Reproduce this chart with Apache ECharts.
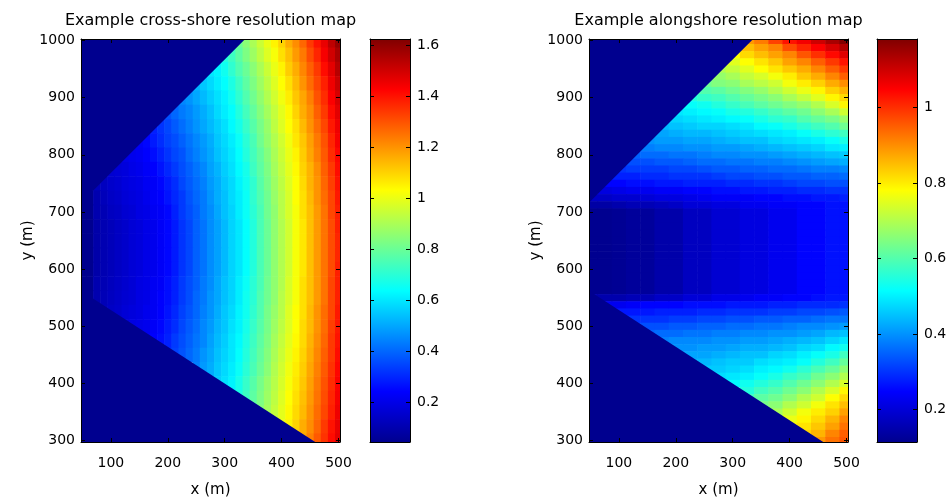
<!DOCTYPE html>
<html>
<head>
<meta charset="utf-8">
<script src="https://cdn.jsdelivr.net/npm/echarts@6/dist/echarts.min.js"></script>
<style>
  html, body { margin: 0; padding: 0; background: #fff; }
  #chart { width: 950px; height: 499px; }
</style>
</head>
<body>
<div id="chart"></div>
<script>
// Resolution estimates (metres). null = outside the camera's field of view.
const _ = null;

// Cross-shore map: rows at 25 m (y), columns at 12.5 m (x).
const crossX = [50, 62.5, 75, 87.5, 100, 112.5, 125, 137.5, 150, 162.5, 175, 187.5, 200, 212.5, 225, 237.5, 250, 262.5, 275, 287.5, 300, 312.5, 325, 337.5, 350, 362.5, 375, 387.5, 400, 412.5, 425, 437.5, 450, 462.5, 475, 487.5, 500];
const crossY = [1000, 975, 950, 925, 900, 875, 850, 825, 800, 775, 750, 725, 700, 675, 650, 625, 600, 575, 550, 525, 500, 475, 450, 425, 400, 375, 350, 325, 300];
const crossCell = [12.5, 25];

const crossShore = [
  [_,_,_,_,_,_,_,_,_,_,_,_,_,_,_,_,_,_,_,_,_,_,.80,.85,.90,.95,1.00,1.05,1.10,1.16,1.21,1.27,1.34,1.40,1.46,1.53,1.59],
  [_,_,_,_,_,_,_,_,_,_,_,_,_,_,_,_,_,_,_,_,.69,.73,.78,.83,.88,.93,.98,1.02,1.08,1.13,1.19,1.24,1.31,1.37,1.44,1.50,1.56],
  [_,_,_,_,_,_,_,_,_,_,_,_,_,_,_,_,_,_,.60,.62,.66,.71,.76,.80,.85,.90,.95,1.00,1.05,1.11,1.16,1.22,1.28,1.34,1.41,1.47,1.54],
  [_,_,_,_,_,_,_,_,_,_,_,_,_,_,_,_,.52,.55,.58,.61,.64,.68,.73,.78,.83,.88,.93,.98,1.03,1.08,1.14,1.20,1.26,1.32,1.38,1.45,1.51],
  [_,_,_,_,_,_,_,_,_,_,_,_,_,_,.45,.47,.50,.53,.56,.59,.62,.66,.71,.76,.81,.86,.91,.96,1.01,1.06,1.12,1.17,1.23,1.30,1.36,1.43,1.49],
  [_,_,_,_,_,_,_,_,_,_,_,_,.37,.40,.43,.45,.48,.51,.54,.58,.61,.64,.69,.74,.79,.84,.89,.94,.99,1.04,1.10,1.16,1.21,1.28,1.34,1.41,1.47],
  [_,_,_,_,_,_,_,_,_,_,.29,.32,.35,.38,.41,.44,.47,.50,.53,.56,.59,.63,.67,.72,.77,.82,.87,.93,.98,1.03,1.08,1.14,1.20,1.26,1.32,1.39,1.45],
  [_,_,_,_,_,_,_,_,.23,.25,.28,.31,.34,.36,.39,.42,.45,.48,.51,.55,.58,.61,.65,.70,.75,.81,.86,.91,.96,1.01,1.07,1.12,1.18,1.24,1.30,1.37,1.44],
  [_,_,_,_,_,_,.20,.21,.22,.24,.26,.29,.32,.35,.37,.41,.44,.47,.50,.54,.57,.60,.64,.69,.74,.79,.84,.90,.95,1.00,1.05,1.11,1.17,1.23,1.29,1.36,1.42],
  [_,_,_,_,.16,.17,.18,.20,.21,.23,.24,.27,.30,.33,.36,.39,.42,.45,.49,.52,.56,.59,.63,.67,.73,.78,.83,.89,.94,.99,1.04,1.10,1.15,1.21,1.28,1.34,1.41],
  [_,_,.12,.13,.15,.16,.18,.19,.20,.22,.23,.25,.28,.31,.35,.38,.41,.44,.48,.51,.55,.58,.62,.66,.71,.77,.82,.88,.93,.98,1.03,1.09,1.15,1.20,1.27,1.33,1.40],
  [.044,.044,.10,.12,.14,.15,.17,.18,.19,.21,.23,.24,.27,.30,.33,.37,.40,.43,.47,.51,.54,.58,.61,.65,.71,.76,.81,.87,.92,.97,1.03,1.08,1.14,1.20,1.26,1.32,1.39],
  [.044,.044,.10,.11,.13,.14,.16,.17,.19,.20,.22,.23,.25,.29,.33,.36,.39,.43,.46,.50,.54,.57,.61,.65,.70,.75,.81,.86,.92,.97,1.02,1.08,1.13,1.19,1.25,1.32,1.38],
  [.044,.044,.09,.105,.12,.135,.15,.17,.18,.20,.21,.23,.25,.28,.32,.35,.39,.42,.46,.49,.53,.57,.60,.64,.69,.75,.80,.86,.91,.96,1.02,1.07,1.13,1.19,1.25,1.31,1.38],
  [.044,.044,.09,.105,.12,.135,.15,.17,.18,.20,.21,.23,.25,.28,.32,.35,.39,.42,.46,.49,.53,.57,.60,.64,.69,.75,.80,.86,.91,.96,1.02,1.07,1.13,1.19,1.25,1.31,1.37],
  [.044,.044,.09,.105,.12,.135,.15,.17,.18,.20,.21,.23,.25,.28,.32,.35,.39,.42,.46,.49,.53,.57,.60,.64,.69,.75,.80,.86,.91,.96,1.02,1.07,1.13,1.19,1.25,1.31,1.37],
  [.044,.044,.09,.105,.12,.135,.15,.17,.18,.20,.21,.23,.25,.28,.32,.35,.39,.42,.46,.49,.53,.57,.60,.64,.69,.75,.80,.86,.91,.96,1.02,1.07,1.13,1.19,1.25,1.31,1.38],
  [.044,.044,.10,.11,.125,.14,.155,.17,.19,.20,.22,.23,.26,.29,.33,.36,.39,.43,.46,.50,.54,.57,.61,.65,.70,.75,.81,.86,.91,.97,1.02,1.08,1.13,1.19,1.25,1.32,1.38],
  [.044,.044,.10,.115,.13,.145,.16,.17,.19,.20,.22,.24,.26,.29,.33,.36,.40,.43,.47,.50,.54,.57,.61,.66,.70,.76,.81,.86,.92,.97,1.02,1.08,1.13,1.19,1.25,1.32,1.38],
  [_,_,_,.12,.14,.15,.17,.18,.19,.21,.22,.24,.27,.30,.34,.37,.40,.44,.47,.51,.55,.58,.62,.66,.71,.76,.82,.87,.92,.98,1.03,1.08,1.14,1.20,1.26,1.32,1.39],
  [_,_,_,_,_,_,.17,.19,.20,.21,.23,.25,.28,.31,.35,.38,.41,.45,.48,.52,.55,.59,.62,.67,.72,.77,.82,.88,.93,.98,1.03,1.09,1.14,1.20,1.26,1.33,1.39],
  [_,_,_,_,_,_,_,_,_,.22,.24,.26,.29,.33,.36,.39,.42,.45,.49,.53,.56,.60,.63,.68,.73,.78,.83,.89,.94,.99,1.04,1.09,1.15,1.21,1.27,1.34,1.40],
  [_,_,_,_,_,_,_,_,_,_,_,_,.31,.34,.37,.40,.43,.47,.50,.54,.57,.60,.64,.69,.74,.79,.84,.90,.95,1.00,1.05,1.10,1.16,1.22,1.28,1.34,1.41],
  [_,_,_,_,_,_,_,_,_,_,_,_,_,_,_,_,.44,.48,.51,.55,.58,.61,.65,.70,.75,.80,.85,.91,.96,1.01,1.06,1.11,1.17,1.23,1.29,1.35,1.42],
  [_,_,_,_,_,_,_,_,_,_,_,_,_,_,_,_,_,_,_,.56,.59,.62,.67,.72,.77,.82,.87,.92,.97,1.02,1.07,1.12,1.18,1.24,1.30,1.36,1.43],
  [_,_,_,_,_,_,_,_,_,_,_,_,_,_,_,_,_,_,_,_,_,_,.68,.73,.78,.83,.88,.93,.98,1.03,1.08,1.13,1.19,1.25,1.31,1.37,1.44],
  [_,_,_,_,_,_,_,_,_,_,_,_,_,_,_,_,_,_,_,_,_,_,_,_,_,.84,.89,.94,.99,1.04,1.09,1.14,1.20,1.26,1.32,1.38,1.45],
  [_,_,_,_,_,_,_,_,_,_,_,_,_,_,_,_,_,_,_,_,_,_,_,_,_,_,_,_,1.00,1.05,1.10,1.16,1.21,1.27,1.34,1.40,1.46],
  [_,_,_,_,_,_,_,_,_,_,_,_,_,_,_,_,_,_,_,_,_,_,_,_,_,_,_,_,_,_,_,1.17,1.23,1.29,1.35,1.41,1.47]
];

// Alongshore map: columns at 25 m (x), each listing values from y = 1000 down to y = 300 at 12.5 m.
const alongX = [50, 75, 100, 125, 150, 175, 200, 225, 250, 275, 300, 325, 350, 375, 400, 425, 450, 475, 500];
const alongY = [1000, 987.5, 975, 962.5, 950, 937.5, 925, 912.5, 900, 887.5, 875, 862.5, 850, 837.5, 825, 812.5, 800, 787.5, 775, 762.5, 750, 737.5, 725, 712.5, 700, 687.5, 675, 662.5, 650, 637.5, 625, 612.5, 600, 587.5, 575, 562.5, 550, 537.5, 525, 512.5, 500, 487.5, 475, 462.5, 450, 437.5, 425, 412.5, 400, 387.5, 375, 362.5, 350, 337.5, 325, 312.5, 300];
const alongCell = [25, 12.5];

const alongshoreByColumn = [
  [_,_,_,_,_,_,_,_,_,_,_,_,_,_,_,_,_,_,_,_,_,_,.18,.14,.115,.115,.115,.115,.115,.115,.115,.115,.115,.115,.115,.115,.15,_,_,_,_,_,_,_,_,_,_,_,_,_,_,_,_,_,_,_,_],
  [_,_,_,_,_,_,_,_,_,_,_,_,_,_,_,_,_,_,_,_,.25,.21,.18,.14,.115,.115,.115,.115,.115,.115,.115,.115,.115,.115,.115,.115,.15,.23,_,_,_,_,_,_,_,_,_,_,_,_,_,_,_,_,_,_,_],
  [_,_,_,_,_,_,_,_,_,_,_,_,_,_,_,_,_,_,.30,.28,.25,.22,.19,.15,.12,.12,.12,.12,.12,.12,.12,.12,.12,.12,.12,.12,.15,.23,.27,_,_,_,_,_,_,_,_,_,_,_,_,_,_,_,_,_,_],
  [_,_,_,_,_,_,_,_,_,_,_,_,_,_,_,_,.35,.33,.31,.28,.26,.23,.19,.16,.128,.128,.128,.128,.128,.128,.128,.128,.128,.128,.128,.128,.16,.24,.27,.30,.32,_,_,_,_,_,_,_,_,_,_,_,_,_,_,_,_],
  [_,_,_,_,_,_,_,_,_,_,_,_,_,_,.40,.38,.36,.33,.31,.29,.26,.23,.20,.16,.128,.128,.128,.128,.128,.128,.128,.128,.128,.128,.128,.128,.16,.25,.27,.30,.33,.35,_,_,_,_,_,_,_,_,_,_,_,_,_,_,_],
  [_,_,_,_,_,_,_,_,_,_,_,_,.44,.42,.41,.39,.36,.34,.31,.29,.27,.24,.21,.17,.146,.146,.146,.146,.146,.146,.146,.146,.146,.146,.146,.146,.18,.25,.28,.30,.33,.36,.38,_,_,_,_,_,_,_,_,_,_,_,_,_,_],
  [_,_,_,_,_,_,_,_,_,_,.49,.47,.45,.43,.41,.39,.37,.34,.32,.30,.27,.24,.21,.18,.146,.146,.146,.146,.146,.146,.146,.146,.146,.146,.146,.146,.18,.25,.28,.31,.34,.36,.39,.40,_,_,_,_,_,_,_,_,_,_,_,_,_],
  [_,_,_,_,_,_,_,_,.55,.52,.50,.48,.46,.44,.42,.40,.37,.35,.32,.30,.28,.25,.22,.20,.173,.173,.173,.173,.173,.173,.173,.173,.173,.173,.173,.173,.20,.26,.28,.31,.34,.37,.39,.40,.42,.43,_,_,_,_,_,_,_,_,_,_,_],
  [_,_,_,_,_,_,.63,.60,.57,.53,.51,.49,.47,.44,.42,.40,.38,.36,.33,.30,.28,.25,.23,.20,.173,.173,.173,.173,.173,.173,.173,.173,.173,.173,.173,.173,.20,.26,.29,.32,.35,.37,.39,.41,.42,.44,.46,_,_,_,_,_,_,_,_,_,_],
  [_,_,_,_,.70,.67,.65,.61,.58,.55,.52,.50,.47,.45,.43,.41,.39,.36,.34,.31,.28,.26,.24,.21,.194,.194,.194,.194,.194,.194,.194,.194,.194,.194,.194,.194,.22,.26,.29,.32,.35,.38,.40,.41,.43,.45,.46,.48,_,_,_,_,_,_,_,_,_],
  [_,_,.78,.75,.72,.69,.66,.63,.60,.57,.54,.51,.48,.46,.44,.41,.39,.37,.34,.32,.29,.26,.24,.21,.194,.194,.194,.194,.194,.194,.194,.194,.194,.194,.194,.194,.22,.27,.30,.33,.36,.38,.40,.42,.44,.46,.47,.49,.51,_,_,_,_,_,_,_,_],
  [.89,.85,.82,.78,.75,.72,.69,.65,.62,.59,.55,.52,.49,.47,.45,.42,.40,.37,.35,.32,.29,.27,.24,.23,.21,.21,.21,.21,.21,.21,.21,.21,.21,.21,.21,.21,.23,.27,.30,.33,.36,.39,.41,.43,.45,.46,.48,.50,.53,.55,.58,_,_,_,_,_,_],
  [.92,.88,.85,.81,.78,.74,.71,.67,.64,.61,.57,.54,.51,.48,.45,.43,.40,.38,.35,.33,.30,.27,.25,.23,.21,.21,.21,.21,.21,.21,.21,.21,.21,.21,.21,.21,.24,.27,.30,.34,.37,.39,.41,.43,.45,.48,.50,.52,.55,.58,.61,.64,_,_,_,_,_],
  [.98,.91,.88,.84,.81,.77,.73,.70,.66,.63,.59,.56,.52,.49,.47,.44,.41,.38,.36,.33,.30,.28,.25,.24,.229,.229,.229,.229,.229,.229,.229,.229,.229,.229,.229,.229,.24,.28,.31,.34,.37,.40,.42,.44,.47,.49,.51,.54,.57,.60,.63,.66,.69,_,_,_,_],
  [1.03,.97,.91,.88,.84,.80,.77,.73,.69,.65,.61,.57,.54,.50,.48,.45,.42,.39,.36,.34,.31,.28,.26,.24,.229,.229,.229,.229,.229,.229,.229,.229,.229,.229,.229,.229,.25,.28,.31,.35,.38,.40,.43,.45,.48,.50,.53,.57,.60,.63,.66,.70,.73,.76,.79,_,_],
  [1.06,1.01,.96,.91,.87,.84,.80,.76,.72,.67,.63,.60,.56,.52,.49,.46,.43,.40,.37,.34,.32,.29,.26,.25,.25,.25,.25,.25,.25,.25,.25,.25,.25,.25,.25,.25,.25,.29,.32,.35,.39,.41,.44,.47,.50,.52,.56,.59,.63,.66,.70,.73,.77,.79,.81,.83,_],
  [1.10,1.05,1.00,.95,.91,.87,.83,.79,.75,.70,.66,.62,.58,.54,.50,.47,.44,.41,.38,.35,.32,.29,.27,.25,.25,.25,.25,.25,.25,.25,.25,.25,.25,.25,.25,.25,.26,.29,.32,.36,.39,.42,.45,.48,.52,.55,.59,.63,.66,.70,.73,.77,.80,.82,.84,.86,.89],
  [1.14,1.09,1.04,.99,.95,.91,.87,.83,.79,.74,.69,.64,.60,.56,.52,.49,.45,.42,.38,.35,.33,.30,.27,.264,.264,.264,.264,.264,.264,.264,.264,.264,.264,.264,.264,.264,.27,.29,.33,.37,.40,.44,.47,.51,.54,.58,.62,.66,.70,.74,.78,.81,.83,.86,.88,.91,.93],
  [1.18,1.13,1.08,1.03,.99,.95,.90,.86,.82,.79,.73,.67,.63,.58,.54,.50,.46,.43,.39,.36,.33,.30,.28,.264,.264,.264,.264,.264,.264,.264,.264,.264,.264,.264,.264,.264,.27,.30,.34,.37,.41,.45,.49,.53,.58,.62,.66,.70,.74,.79,.82,.85,.88,.91,.93,.95,.96]
];

// Edges of the camera's field of view (x, y in metres)
const viewEdgeUpper = [[47.5, 716], [336, 1002.5]];
const viewEdgeLower = [[47.5, 562], [459, 297.5]];

// Axis extents and ticks
const xExtent = [47.5, 502.5];
const yExtent = [297.5, 1002.5];
const xTicks = [100, 200, 300, 400, 500];
const yTicks = [300, 400, 500, 600, 700, 800, 900, 1000];

// Colour scale limits and colourbar ticks
const crossRange = [0.044, 1.625];
const alongRange = [0.114, 1.182];
const crossBarTicks = [0.2, 0.4, 0.6, 0.8, 1, 1.2, 1.4, 1.6];
const alongBarTicks = [0.2, 0.4, 0.6, 0.8, 1];

const titles = ['Example cross-shore resolution map', 'Example alongshore resolution map'];

// Jet colour map, low to high
const jet = ['#00008f', '#0000ff', '#0080ff', '#00ffff', '#80ff80', '#ffff00', '#ff8000', '#ff0000', '#800000'];

const fontFamily = 'DejaVu Sans';
const ink = '#000';
const plainNumber = v => String(v);

function rowsToCells(grid, xs, ys) {
  const out = [];
  grid.forEach((row, r) => row.forEach((v, c) => { if (v !== null) out.push([xs[c], ys[r], v]); }));
  return out;
}
function columnsToCells(grid, xs, ys) {
  const out = [];
  grid.forEach((col, c) => col.forEach((v, r) => { if (v !== null) out.push([xs[c], ys[r], v]); }));
  return out;
}

function cellRenderer(size) {
  const hw = size[0] / 2, hh = size[1] / 2;
  return function (params, api) {
    const x = api.value(0), y = api.value(1);
    const a = api.coord([x - hw, y + hh]);
    const b = api.coord([x + hw, y - hh]);
    const cs = params.coordSys;
    const shape = echarts.graphic.clipRectByRect(
      { x: a[0], y: a[1], width: b[0] - a[0] + 0.6, height: b[1] - a[1] + 0.6 },
      { x: cs.x, y: cs.y, width: cs.width, height: cs.height }
    );
    if (!shape) return;
    return { type: 'rect', shape: shape, style: { fill: api.visual('color') } };
  };
}

function renderOutsideView(params, api) {
  const color = api.visual('color');
  const upper = viewEdgeUpper.concat([[xExtent[0], yExtent[1]]]);
  const lower = viewEdgeLower.concat([[xExtent[0], yExtent[0]]]);
  return {
    type: 'group',
    children: [upper, lower].map(poly => ({
      type: 'polygon',
      shape: { points: poly.map(p => api.coord(p)) },
      style: { fill: color }
    }))
  };
}

function renderBar(params, api) {
  const p0 = api.coord([0, api.value(2)]);
  const p1 = api.coord([1, api.value(1)]);
  const stops = jet.slice().reverse().map((c, i) => ({ offset: i / (jet.length - 1), color: c }));
  return {
    type: 'rect',
    shape: { x: p0[0], y: p0[1], width: p1[0] - p0[0], height: p1[1] - p0[1] },
    style: { fill: new echarts.graphic.LinearGradient(0, 0, 0, 1, stops) }
  };
}

const frameLine = { show: true, onZero: false, lineStyle: { color: ink, width: 1 } };
const tickStyle = { color: ink, width: 1 };
const labelFont = { fontFamily, fontSize: 14, color: ink, formatter: plainNumber };

const grids = [
  { left: 81, top: 39, width: 259, height: 403, outerBoundsMode: 'none', containLabel: false },
  { left: 589, top: 39, width: 259, height: 403, outerBoundsMode: 'none', containLabel: false },
  { left: 370, top: 39, width: 40, height: 403, outerBoundsMode: 'none', containLabel: false },
  { left: 877, top: 39, width: 40, height: 403, outerBoundsMode: 'none', containLabel: false }
];

const xAxes = [], yAxes = [];
[0, 1].forEach(g => {
  xAxes.push({
    type: 'value', gridIndex: g, position: 'bottom', min: xExtent[0], max: xExtent[1], z: 10,
    name: 'x (m)', nameLocation: 'middle', nameGap: 41,
    nameTextStyle: { fontFamily, fontSize: 15, color: ink },
    axisLine: frameLine,
    axisTick: { inside: true, length: 4, customValues: xTicks, lineStyle: tickStyle },
    axisLabel: Object.assign({ customValues: xTicks, margin: 14 }, labelFont),
    splitLine: { show: false }
  });
  xAxes.push({
    type: 'value', gridIndex: g, position: 'top', min: xExtent[0], max: xExtent[1], z: 10,
    axisLine: frameLine,
    axisTick: { inside: true, length: 4, customValues: xTicks, lineStyle: tickStyle },
    axisLabel: { show: false }, splitLine: { show: false }
  });
  yAxes.push({
    type: 'value', gridIndex: g, position: 'left', min: yExtent[0], max: yExtent[1], z: 10,
    name: 'y (m)', nameLocation: 'middle', nameGap: 33,
    nameTextStyle: { fontFamily, fontSize: 15, color: ink },
    axisLine: frameLine,
    axisTick: { inside: true, length: 4, customValues: yTicks, lineStyle: tickStyle },
    axisLabel: Object.assign({ customValues: yTicks, margin: 6 }, labelFont),
    splitLine: { show: false }
  });
  yAxes.push({
    type: 'value', gridIndex: g, position: 'right', min: yExtent[0], max: yExtent[1], z: 10,
    axisLine: frameLine,
    axisTick: { inside: true, length: 4, customValues: yTicks, lineStyle: tickStyle },
    axisLabel: { show: false }, splitLine: { show: false }
  });
});
[[2, crossRange, crossBarTicks], [3, alongRange, alongBarTicks]].forEach(([g, range, ticks]) => {
  ['bottom', 'top'].forEach(pos => xAxes.push({
    type: 'value', gridIndex: g, position: pos, min: 0, max: 1, z: 10,
    axisLine: frameLine, axisTick: { show: false }, axisLabel: { show: false }, splitLine: { show: false }
  }));
  yAxes.push({
    type: 'value', gridIndex: g, position: 'right', min: range[0], max: range[1], z: 10,
    axisLine: frameLine,
    axisTick: { inside: true, length: 4, customValues: ticks, lineStyle: tickStyle },
    axisLabel: Object.assign({ customValues: ticks, margin: 7 }, labelFont),
    splitLine: { show: false }
  });
  yAxes.push({
    type: 'value', gridIndex: g, position: 'left', min: range[0], max: range[1], z: 10,
    axisLine: frameLine,
    axisTick: { inside: true, length: 4, customValues: ticks, lineStyle: tickStyle },
    axisLabel: { show: false }, splitLine: { show: false }
  });
});

const chart = echarts.init(document.getElementById('chart'), null, { renderer: 'canvas' });
chart.setOption({
  animation: false,
  backgroundColor: '#fff',
  title: titles.map((t, i) => ({
    text: t, left: i === 0 ? 210.5 : 718.5, top: 13, textAlign: 'center', padding: 0,
    textStyle: { fontFamily, fontSize: 16, fontWeight: 'normal', color: ink }
  })),
  grid: grids,
  xAxis: xAxes,
  yAxis: yAxes,
  visualMap: [
    { type: 'continuous', show: false, min: crossRange[0], max: crossRange[1], dimension: 2,
      seriesIndex: [0, 1], inRange: { color: jet } },
    { type: 'continuous', show: false, min: alongRange[0], max: alongRange[1], dimension: 2,
      seriesIndex: [2, 3], inRange: { color: jet } }
  ],
  series: [
    { type: 'custom', xAxisIndex: 0, yAxisIndex: 0, renderItem: cellRenderer(crossCell),
      data: rowsToCells(crossShore, crossX, crossY), z: 2 },
    { type: 'custom', xAxisIndex: 0, yAxisIndex: 0, renderItem: renderOutsideView,
      data: [[xExtent[0], yExtent[0], crossRange[0]]], z: 3 },
    { type: 'custom', xAxisIndex: 2, yAxisIndex: 2, renderItem: cellRenderer(alongCell),
      data: columnsToCells(alongshoreByColumn, alongX, alongY), z: 2 },
    { type: 'custom', xAxisIndex: 2, yAxisIndex: 2, renderItem: renderOutsideView,
      data: [[xExtent[0], yExtent[0], alongRange[0]]], z: 3 },
    { type: 'custom', xAxisIndex: 4, yAxisIndex: 4, renderItem: renderBar,
      data: [[0, crossRange[0], crossRange[1]]], z: 2 },
    { type: 'custom', xAxisIndex: 6, yAxisIndex: 6, renderItem: renderBar,
      data: [[0, alongRange[0], alongRange[1]]], z: 2 }
  ]
});
</script>
</body>
</html>
